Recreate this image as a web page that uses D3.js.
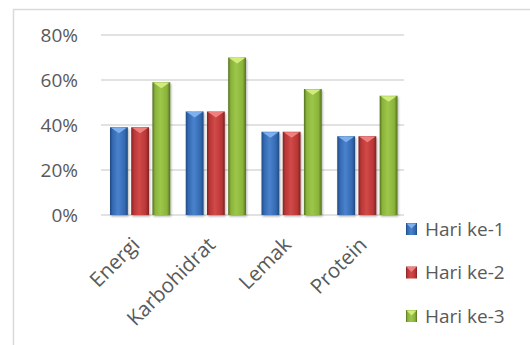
<!DOCTYPE html>
<html>
<head>
<meta charset="utf-8">
<script src="https://cdn.jsdelivr.net/npm/d3@7"></script>
<style>
  body { margin: 0; background: #fff; }
  svg text { font-family: "Open Sans", sans-serif; fill: #595959; }
</style>
</head>
<body>
<svg id="chart"></svg>
<script>
var width = 530;
var height = 345;

// data
var categories = ["Energi", "Karbohidrat", "Lemak", "Protein"];
var seriesNames = ["Hari ke-1", "Hari ke-2", "Hari ke-3"];
var hari1 = [0.39, 0.46, 0.37, 0.35];
var hari2 = [0.39, 0.46, 0.37, 0.35];
var hari3 = [0.59, 0.70, 0.56, 0.53];
var yTicks = [0, 0.2, 0.4, 0.6, 0.8];

var seriesValues = [hari1, hari2, hari3];
var colors = [
  { dark: "#1f4a80", mid: "#3469b2", light: "#4a82cc", tip: "#7fb0ee" },
  { dark: "#7e2423", mid: "#bb3636", light: "#d04a49", tip: "#f0807e" },
  { dark: "#55701f", mid: "#8ab33b", light: "#9dc74a", tip: "#d2ec7c" }
];

var svg = d3.select("#chart")
  .attr("width", width)
  .attr("height", height);

// outer chart border (cut at right and bottom)
svg.append("rect")
  .attr("x", 13.5)
  .attr("y", 9.5)
  .attr("width", 600)
  .attr("height", 400)
  .attr("fill", "none")
  .attr("stroke", "#d9d9d9")
  .attr("stroke-width", 1.5);

var defs = svg.append("defs");
colors.forEach(function(c, i) {
  var g = defs.append("linearGradient")
    .attr("id", "grad" + i)
    .attr("x1", "0%").attr("x2", "100%")
    .attr("y1", "0%").attr("y2", "0%");
  g.append("stop").attr("offset", "0%").attr("stop-color", c.dark);
  g.append("stop").attr("offset", "15%").attr("stop-color", c.mid);
  g.append("stop").attr("offset", "45%").attr("stop-color", c.light);
  g.append("stop").attr("offset", "82%").attr("stop-color", c.mid);
  g.append("stop").attr("offset", "100%").attr("stop-color", c.dark);
});

var shadow = defs.append("filter").attr("id", "shadow")
  .attr("x", "-20%").attr("y", "-10%").attr("width", "140%").attr("height", "130%");
shadow.append("feDropShadow")
  .attr("dx", 1).attr("dy", 1.5).attr("stdDeviation", 1.2)
  .attr("flood-color", "#000").attr("flood-opacity", 0.3);

var x0 = d3.scaleBand()
  .domain(categories)
  .range([101, 404])
  .paddingInner(0)
  .paddingOuter(0);

var x1 = d3.scaleBand()
  .domain(seriesNames)
  .range([9, x0.bandwidth() - 6.5])
  .paddingInner(0.16);

var y = d3.scaleLinear()
  .domain([0, 0.8])
  .range([215, 35]);

// gridlines
svg.append("g")
  .selectAll("line")
  .data(yTicks)
  .enter().append("line")
  .attr("x1", 101)
  .attr("x2", 404)
  .attr("y1", function(d) { return y(d); })
  .attr("y2", function(d) { return y(d); })
  .attr("stroke", "#d9d9d9")
  .attr("stroke-width", 1.5);

// y axis labels
var yAxis = d3.axisLeft(y)
  .tickValues(yTicks)
  .tickSize(0)
  .tickPadding(0)
  .tickFormat(d3.format(".0%"));

var yg = svg.append("g")
  .attr("transform", "translate(78,0)")
  .call(yAxis);
yg.select(".domain").remove();
yg.selectAll("text")
  .attr("font-size", 19)
  .attr("fill", "#595959")
  .attr("dy", "0.35em");

// bars
var groups = svg.append("g")
  .selectAll("g")
  .data(categories)
  .enter().append("g")
  .attr("transform", function(d) { return "translate(" + x0(d) + ",0)"; });

groups.each(function(cat, ci) {
  var g = d3.select(this);
  seriesNames.forEach(function(s, si) {
    var v = seriesValues[si][ci];
    var bx = x1(s);
    var bw = x1.bandwidth();
    var by = y(v);
    g.append("rect")
      .attr("x", bx)
      .attr("y", by)
      .attr("width", bw)
      .attr("height", y(0) - by)
      .attr("fill", "url(#grad" + si + ")")
      .attr("filter", "url(#shadow)");
    // bevel tip at the top
    g.append("path")
      .attr("d", "M" + (bx + 1) + "," + (by + 0.5) +
                 "L" + (bx + bw - 1) + "," + (by + 0.5) +
                 "L" + (bx + bw / 2) + "," + (by + 6) + "Z")
      .attr("fill", colors[si].tip);
  });
});

// category labels
var xAxis = d3.axisBottom(x0).tickSize(0).tickPadding(0);
var xg = svg.append("g")
  .attr("transform", "translate(0,215)")
  .call(xAxis);
xg.select(".domain").remove();
xg.selectAll("text")
  .attr("font-size", 20.5)
  .attr("fill", "#595959")
  .attr("text-anchor", "end")
  .attr("dy", null)
  .attr("y", 0)
  .attr("transform", "translate(2,31) rotate(-45)");

// legend
var legend = svg.append("g")
  .selectAll("g")
  .data(seriesNames)
  .enter().append("g")
  .attr("transform", function(d, i) { return "translate(406," + (229 + i * 43.5) + ")"; });

legend.append("rect")
  .attr("x", 0)
  .attr("y", -6)
  .attr("width", 11)
  .attr("height", 12)
  .attr("fill", function(d, i) { return "url(#grad" + i + ")"; });

legend.append("path")
  .attr("d", "M0.5,-5.5L10.5,-5.5L5.5,-0.5Z")
  .attr("fill", function(d, i) { return colors[i].tip; });

legend.append("text")
  .attr("x", 19)
  .attr("y", 0)
  .attr("dy", "0.35em")
  .attr("font-size", 19)
  .text(function(d) { return d; });
</script>
</body>
</html>
